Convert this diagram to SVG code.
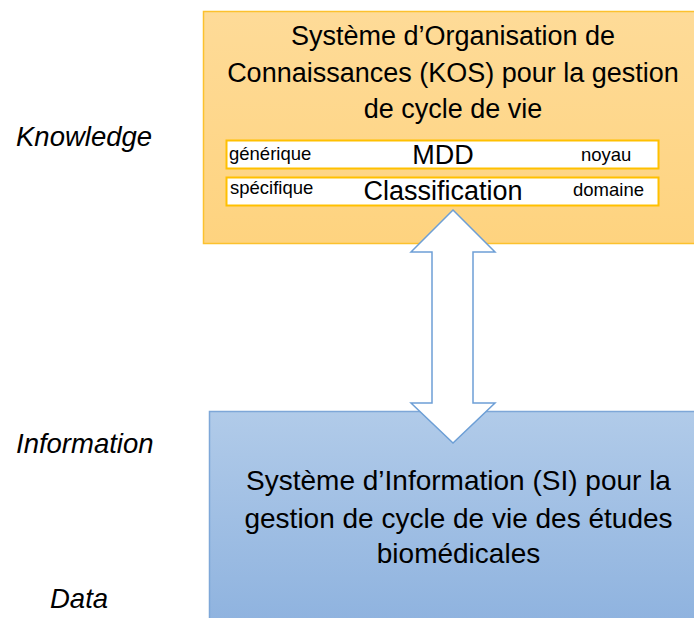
<svg xmlns="http://www.w3.org/2000/svg" width="694" height="618" viewBox="0 0 694 618">
<defs>
<linearGradient id="gOr" x1="0" y1="0" x2="0" y2="1">
<stop offset="0" stop-color="#fedb98"/>
<stop offset="1" stop-color="#fed37f"/>
</linearGradient>
<linearGradient id="gBl" x1="0" y1="0" x2="0" y2="1">
<stop offset="0" stop-color="#b1cbe9"/>
<stop offset="1" stop-color="#8fb3df"/>
</linearGradient>
<style>
text{font-family:"Liberation Sans",Arial,sans-serif;fill:#000}
.lvl{font-size:27.5px;font-style:italic}
.title{font-size:27px;text-anchor:middle}
.si{font-size:28px;text-anchor:middle}
.row{fill:#fff;stroke:#ffc000;stroke-width:2}
.small{font-size:18.5px}
.mid{font-size:27px;text-anchor:middle}
</style>
</defs>
<rect width="694" height="618" fill="#fff"/>
<g id="levels">
<text class="lvl" x="16" y="146">Knowledge</text>
<text class="lvl" x="16" y="453">Information</text>
<text class="lvl" x="50" y="608">Data</text>
</g>
<g id="kos">
<rect x="203.5" y="11.5" width="500" height="232" fill="url(#gOr)" stroke="#fcc12e" stroke-width="1.5"/>
<text class="title" x="453" y="45">Système d’Organisation de</text>
<text class="title" x="453" y="82">Connaissances (KOS) pour la gestion</text>
<text class="title" x="453" y="118">de cycle de vie</text>
</g>
<g id="row-mdd">
<rect class="row" x="226.5" y="140.5" width="432" height="28"/>
<text class="small" x="229" y="160">générique</text>
<text class="mid" x="443" y="164">MDD</text>
<text class="small" x="581" y="161">noyau</text>
</g>
<g id="row-classification">
<rect class="row" x="226.5" y="177.5" width="432" height="28"/>
<text class="small" x="230" y="194">spécifique</text>
<text class="mid" x="443" y="200">Classification</text>
<text class="small" x="573" y="196">domaine</text>
</g>
<g id="si">
<rect x="209.5" y="411.5" width="500" height="210" fill="url(#gBl)" stroke="#7ea7d8" stroke-width="1.5"/>
<text class="si" x="458.5" y="490">Système d’Information (SI) pour la</text>
<text class="si" x="458.5" y="528">gestion de cycle de vie des études</text>
<text class="si" x="458.5" y="563">biomédicales</text>
</g>
<g id="connectors">
<path d="M453,210 L495,252 L473,252 L473,403 L495,403 L453,443 L411,403 L432,403 L432,252 L411,252 Z" fill="#fff" stroke="#6d9fd6" stroke-width="1.5" stroke-linejoin="miter"/>
</g>
</svg>
